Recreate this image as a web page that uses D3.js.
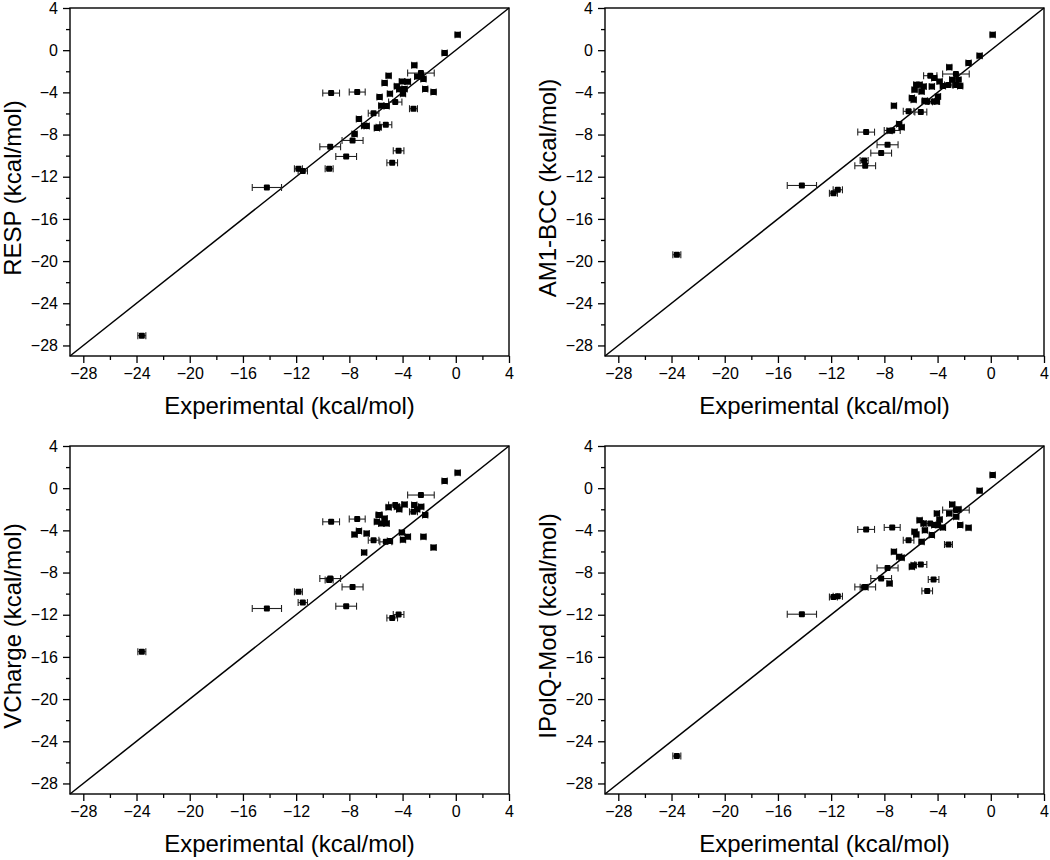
<!DOCTYPE html>
<html>
<head>
<meta charset="utf-8">
<script src="https://cdn.jsdelivr.net/npm/d3@7"></script>
<style>
  html, body { margin: 0; padding: 0; background: #fff; }
  svg { display: block; }
  text { font-family: "Liberation Sans", Arial, sans-serif; fill: #000; }
</style>
</head>
<body>
<svg id="chart" width="1050" height="860"></svg>
<script>
// ---- data (kcal/mol) ----
const experimental = [-23.6, -14.2, -11.83, -11.5, -9.52, -9.44, -9.37, -8.24, -7.76, -7.61,
  -7.41, -7.28, -6.89, -6.7, -6.18, -5.93, -5.8, -5.73, -5.6, -5.35,
  -5.26, -5.2, -5.05, -4.95, -4.78, -4.55, -4.43, -4.3, -4.25, -4.05,
  -3.97, -3.85, -3.6, -3.18, -3.12, -2.9, -2.62, -2.6, -2.43, -2.3,
  -1.67, -0.84, 0.14];
const expError = [0.3, 1.1, 0.3, 0.35, 0.3, 0.78, 0.63, 0.78, 0.79, 0.2,
  0.6, 0.2, 0.2, 0.2, 0.4, 0.2, 0.2, 0.2, 0.2, 0.2,
  0.45, 0.2, 0.2, 0.2, 0.4, 0.5, 0.2, 0.4, 0.2, 0.2,
  0.2, 0.2, 0.2, 0.3, 0.2, 0.2, 1.0, 0.2, 0.2, 0.2,
  0.2, 0.2, 0.2];
const resp = [-27.07, -13.02, -11.25, -11.45, -11.25, -9.16, -4.07, -10.08, -8.56, -7.96,
  -3.97, -6.53, -7.17, -7.2, -5.97, -7.39, -7.3, -4.45, -5.27, -3.12,
  -7.07, -5.3, -2.42, -4.13, -10.68, -4.92, -3.43, -9.54, -3.7, -2.96,
  -4.13, -3.69, -3.0, -5.55, -1.44, -2.5, -2.17, -2.5, -2.74, -3.69,
  -3.97, -0.27, 1.47];
const am1bcc = [-19.4, -12.83, -13.56, -13.24, -10.46, -10.96, -7.77, -9.76, -8.97, -7.65,
  -7.61, -5.27, -7.01, -7.3, -5.8, -4.54, -4.7, -3.75, -3.28, -3.28,
  -5.87, -3.91, -3.44, -4.8, -4.9, -2.42, -3.44, -4.87, -2.64, -4.87,
  -4.39, -2.96, -3.4, -3.3, -1.63, -2.8, -2.26, -3.3, -2.8, -3.4,
  -1.22, -0.52, 1.47];
const vcharge = [-15.5, -11.41, -9.83, -10.85, -8.7, -8.57, -3.19, -11.19, -9.36, -4.39,
  -2.93, -4.07, -6.1, -4.29, -4.93, -3.19, -2.55, -2.55, -3.34, -2.87,
  -5.09, -3.34, -1.82, -5.02, -12.3, -1.6, -1.76, -11.98, -2.0, -4.2,
  -4.9, -1.54, -4.61, -2.24, -1.6, -2.0, -0.65, -1.76, -4.61, -2.55,
  -5.62, 0.68, 1.47];
const ipolqMod = [-25.4, -11.95, -10.31, -10.25, -9.4, -9.36, -3.91, -8.57, -7.56, -9.04,
  -3.72, -6.03, -6.51, -6.6, -4.93, -7.46, -7.3, -4.13, -4.4, -3.03,
  -7.23, -5.09, -3.34, -3.98, -9.74, -3.34, -4.45, -8.66, -3.5, -2.39,
  -3.5, -2.96, -3.72, -5.34, -2.39, -1.54, -2.08, -2.71, -2.0, -3.5,
  -3.76, -0.24, 1.25];
const yTitles = ["RESP (kcal/mol)", "AM1-BCC (kcal/mol)", "VCharge (kcal/mol)", "IPolQ-Mod (kcal/mol)"];
const xTitle = "Experimental (kcal/mol)";
const majorTicks = [-28, -24, -20, -16, -12, -8, -4, 0, 4];
const minorTicks = [-26, -22, -18, -14, -10, -6, -2, 2];
const axisDomain = [-29, 4];

// ---- drawing ----
const svg = d3.select("#chart");
const panels = [
  { values: resp, title: yTitles[0], x0: 70, y0: 8 },
  { values: am1bcc, title: yTitles[1], x0: 605, y0: 8 },
  { values: vcharge, title: yTitles[2], x0: 70, y0: 446 },
  { values: ipolqMod, title: yTitles[3], x0: 605, y0: 446 }
];
const W = 439, H = 348;

panels.forEach(p => {
  const g = svg.append("g").attr("transform", `translate(${p.x0},${p.y0})`);
  const x = d3.scaleLinear().domain(axisDomain).range([0, W]);
  const y = d3.scaleLinear().domain(axisDomain).range([H, 0]);

  // frame
  g.append("rect").attr("x", 0).attr("y", 0).attr("width", W).attr("height", H)
    .attr("fill", "none").attr("stroke", "#000").attr("stroke-width", 1.4);

  // bottom axis
  const xAxis = g.append("g").attr("transform", `translate(0,${H})`)
    .call(d3.axisBottom(x).tickValues(majorTicks).tickSize(7).tickPadding(5).tickFormat(d3.format("d")));
  xAxis.select(".domain").remove();
  xAxis.selectAll("line").attr("stroke-width", 1.3);
  xAxis.selectAll("text").attr("font-size", 16).attr("font-family", "Liberation Sans, Arial, sans-serif");
  const xMinor = g.append("g").attr("transform", `translate(0,${H})`)
    .call(d3.axisBottom(x).tickValues(minorTicks).tickSize(4).tickFormat(""));
  xMinor.select(".domain").remove();
  xMinor.selectAll("line").attr("stroke-width", 1.3);

  // left axis
  const yAxis = g.append("g")
    .call(d3.axisLeft(y).tickValues(majorTicks).tickSize(7).tickPadding(5).tickFormat(d3.format("d")));
  yAxis.select(".domain").remove();
  yAxis.selectAll("line").attr("stroke-width", 1.3);
  yAxis.selectAll("text").attr("font-size", 16).attr("font-family", "Liberation Sans, Arial, sans-serif");
  const yMinor = g.append("g")
    .call(d3.axisLeft(y).tickValues(minorTicks).tickSize(4).tickFormat(""));
  yMinor.select(".domain").remove();
  yMinor.selectAll("line").attr("stroke-width", 1.3);

  // diagonal y = x
  g.append("line")
    .attr("x1", x(axisDomain[0])).attr("y1", y(axisDomain[0]))
    .attr("x2", x(axisDomain[1])).attr("y2", y(axisDomain[1]))
    .attr("stroke", "#000").attr("stroke-width", 1.5);

  // titles
  g.append("text").attr("x", W / 2).attr("y", H + 58).attr("text-anchor", "middle")
    .attr("font-size", 24).text(xTitle);
  g.append("text").attr("transform", `translate(-49,${H / 2 + 6}) rotate(-90)`)
    .attr("text-anchor", "middle").attr("font-size", 24).text(p.title);

  // points with horizontal error bars
  const pts = experimental.map((e, i) => ({ e, err: expError[i], v: p.values[i] }));
  const pg = g.append("g");
  const eb = pg.selectAll("g.eb").data(pts).join("g").attr("class", "eb");
  eb.append("line")
    .attr("x1", d => x(d.e - d.err)).attr("x2", d => x(d.e + d.err))
    .attr("y1", d => y(d.v)).attr("y2", d => y(d.v))
    .attr("stroke", "#222").attr("stroke-width", 1.1);
  eb.append("line")
    .attr("x1", d => x(d.e - d.err)).attr("x2", d => x(d.e - d.err))
    .attr("y1", d => y(d.v) - 3.5).attr("y2", d => y(d.v) + 3.5)
    .attr("stroke", "#222").attr("stroke-width", 1.1);
  eb.append("line")
    .attr("x1", d => x(d.e + d.err)).attr("x2", d => x(d.e + d.err))
    .attr("y1", d => y(d.v) - 3.5).attr("y2", d => y(d.v) + 3.5)
    .attr("stroke", "#222").attr("stroke-width", 1.1);
  pg.selectAll("rect.pt").data(pts).join("rect").attr("class", "pt")
    .attr("x", d => x(d.e) - 3).attr("y", d => y(d.v) - 3)
    .attr("width", 6).attr("height", 6).attr("rx", 1)
    .attr("fill", "#000");
});
</script>
</body>
</html>
